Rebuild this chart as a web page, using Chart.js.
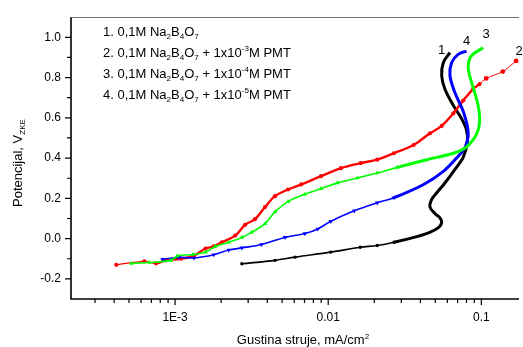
<!DOCTYPE html>
<html><head><meta charset="utf-8">
<script src="https://cdn.jsdelivr.net/npm/chart.js@4/dist/chart.umd.min.js"></script>
<style>html,body{margin:0;padding:0;background:#fff;}</style>
</head><body>
<canvas id="c" width="523" height="347"></canvas>
<script>
// ---- data (current density mA/cm2, potential V) ----
const black_x = [0.00273, 0.0045, 0.00607, 0.0104, 0.0162, 0.0209, 0.0269, 0.0379, 0.046, 0.0527, 0.0551, 0.0537, 0.0499, 0.0462, 0.0474, 0.0512, 0.0568, 0.0671, 0.0762, 0.0811, 0.080, 0.0743, 0.0656, 0.0578, 0.0551, 0.0565, 0.0624];
const black_y = [-0.125, -0.108, -0.092, -0.067, -0.043, -0.034, -0.018, 0.010, 0.031, 0.056, 0.080, 0.103, 0.124, 0.157, 0.195, 0.228, 0.269, 0.343, 0.405, 0.482, 0.539, 0.596, 0.662, 0.743, 0.809, 0.875, 0.924];

const red_x = [0.000413, 0.00063, 0.00075, 0.00087, 0.00109, 0.00133, 0.00158, 0.00179, 0.00202, 0.00247, 0.00287, 0.00333, 0.00387, 0.00449, 0.00547, 0.00667, 0.00897, 0.0121, 0.0163, 0.0209, 0.0268, 0.0361, 0.0462, 0.0551, 0.0656, 0.0762, 0.0883, 0.0975, 0.1076, 0.138, 0.1687];
const red_y = [-0.130, -0.113, -0.123, -0.108, -0.100, -0.084, -0.049, -0.039, -0.018, 0.015, 0.069, 0.097, 0.157, 0.211, 0.244, 0.269, 0.310, 0.350, 0.375, 0.392, 0.424, 0.465, 0.523, 0.560, 0.622, 0.686, 0.743, 0.768, 0.796, 0.830, 0.883];

const green_x = [0.000517, 0.000679, 0.000938, 0.001035, 0.00131, 0.00158, 0.00183, 0.00224, 0.00273, 0.00316, 0.00387, 0.00449, 0.00547, 0.00702, 0.00897, 0.0115, 0.0155, 0.0209, 0.0282, 0.044, 0.0656, 0.078, 0.0883, 0.0953, 0.0975, 0.0953, 0.0891, 0.0839, 0.082, 0.0861, 0.1026];
const green_y = [-0.123, -0.119, -0.108, -0.086, -0.079, -0.067, -0.039, -0.018, 0.006, 0.031, 0.074, 0.133, 0.184, 0.220, 0.248, 0.277, 0.301, 0.326, 0.354, 0.392, 0.424, 0.449, 0.490, 0.539, 0.596, 0.662, 0.743, 0.809, 0.858, 0.908, 0.948];

const blue_x = [0.000828, 0.00106, 0.00133, 0.00179, 0.00224, 0.00273, 0.00367, 0.00523, 0.00705, 0.00855, 0.0104, 0.0148, 0.0209, 0.0268, 0.042, 0.0565, 0.0689, 0.079, 0.082, 0.0764, 0.0671, 0.0624, 0.064, 0.0706, 0.080];
const blue_y = [-0.103, -0.093, -0.096, -0.080, -0.057, -0.046, -0.029, 0.006, 0.025, 0.048, 0.086, 0.138, 0.178, 0.203, 0.269, 0.334, 0.400, 0.460, 0.531, 0.629, 0.727, 0.809, 0.875, 0.915, 0.932];

const xTickValues = [0.001, 0.01, 0.1];
const xTickLabels = ['1E-3', '0.01', '0.1'];
const yTickValues = [-0.2, 0.0, 0.2, 0.4, 0.6, 0.8, 1.0];
const yMinorValues = [-0.1, 0.1, 0.3, 0.5, 0.7, 0.9];
const X_MIN = 2.0906e-4, X_MAX = 0.1762, Y_MIN = -0.3, Y_MAX = 1.1;

const FONT = "'Liberation Sans', Arial, sans-serif";

function pts(xs, ys) { return xs.map((x, i) => ({x: x, y: ys[i]})); }

function makeSet(label, xs, ys, color, style) {
  return {
    label: label,
    data: pts(xs, ys),
    showLine: true,
    borderColor: color,
    backgroundColor: color,
    pointStyle: style.pointStyle,
    rotation: style.rotation || 0,
    pointBorderWidth: 0,
    tension: 0.35,
    order: style.order,
    pointRadius: c => style.radius(c.dataIndex),
    segment: { borderWidth: c => style.width(c.p0DataIndex) },
    borderWidth: 1.5
  };
}

const datasets = [
  makeSet('1', black_x, black_y, '#000000', {pointStyle:'circle', order:4,
    radius: i => i < 7 ? 1.7 : 0, width: i => i < 6 ? 1.6 : 3}),
  makeSet('2', red_x, red_y, '#ff0000', {pointStyle:'circle', order:3,
    radius: i => i >= 28 ? 2.4 : 2.1, width: i => i < 2 ? 1.2 : (i >= 27 ? 1 : 2.4)}),
  makeSet('4', blue_x, blue_y, '#0000ff', {pointStyle:'triangle', rotation:180, order:2,
    radius: i => i < 14 ? 2.6 : 0, width: i => i < 13 ? 1.6 : 3}),
  makeSet('3', green_x, green_y, '#00ff00', {pointStyle:'triangle', order:1,
    radius: i => i < 19 ? 2.6 : 0, width: i => i < 18 ? 1.6 : 3})
];

function richText(ctx, parts, x, y, size) {
  let cx = x;
  for (const p of parts) {
    const t = typeof p === 'string' ? p : p.t;
    const k = typeof p === 'string' ? null : p.k;
    const s = k ? size * 0.62 : size;
    ctx.font = s + 'px ' + FONT;
    const dy = k === 'sub' ? size * 0.26 : (k === 'sup' ? -size * 0.42 : 0);
    ctx.fillText(t, cx, y + dy);
    cx += ctx.measureText(t).width;
  }
  return cx - x;
}
function richWidth(ctx, parts, size) {
  let w = 0;
  for (const p of parts) {
    const t = typeof p === 'string' ? p : p.t;
    const k = typeof p === 'string' ? null : p.k;
    ctx.font = (k ? size * 0.62 : size) + 'px ' + FONT;
    w += ctx.measureText(t).width;
  }
  return w;
}

const NA = ['0,1M Na', {t:'2',k:'sub'}, 'B', {t:'4',k:'sub'}, 'O', {t:'7',k:'sub'}];
const legendLines = [
  ['1. '].concat(NA),
  ['2. '].concat(NA, [' + 1x10', {t:'-3',k:'sup'}, 'M PMT']),
  ['3. '].concat(NA, [' + 1x10', {t:'-4',k:'sup'}, 'M PMT']),
  ['4. '].concat(NA, [' + 1x10', {t:'-5',k:'sup'}, 'M PMT'])
];

const decor = {
  id: 'decor',
  afterDraw(chart) {
    const ctx = chart.ctx, a = chart.chartArea, xs = chart.scales.x, ys = chart.scales.y;
    ctx.save();
    // top frame line
    ctx.strokeStyle = '#707070'; ctx.lineWidth = 1;
    ctx.beginPath(); ctx.moveTo(a.left, Math.round(a.top) + 0.5); ctx.lineTo(a.right, Math.round(a.top) + 0.5); ctx.stroke();
    // axes
    ctx.strokeStyle = '#000'; ctx.lineWidth = 1.6;
    ctx.beginPath(); ctx.moveTo(a.left, a.top); ctx.lineTo(a.left, a.bottom); ctx.lineTo(a.right, a.bottom); ctx.stroke();
    ctx.lineWidth = 1.2;
    ctx.beginPath();
    for (const v of yTickValues) { const p = ys.getPixelForValue(v); ctx.moveTo(a.left - 6, p); ctx.lineTo(a.left, p); }
    for (const v of yMinorValues) { const p = ys.getPixelForValue(v); ctx.moveTo(a.left - 4, p); ctx.lineTo(a.left, p); }
    for (const v of xTickValues) { const p = xs.getPixelForValue(v); ctx.moveTo(p, a.bottom); ctx.lineTo(p, a.bottom + 6); }
    for (let d = -4; d <= 0; d++) {
      for (let m = 2; m <= 9; m++) {
        const v = m * Math.pow(10, d);
        if (v <= X_MIN || v >= X_MAX) continue;
        const p = xs.getPixelForValue(v);
        ctx.moveTo(p, a.bottom); ctx.lineTo(p, a.bottom + 4);
      }
    }
    ctx.stroke();

    ctx.fillStyle = '#000';
    ctx.textBaseline = 'alphabetic';
    ctx.textAlign = 'left';
    // legend text
    const lb = [35.5, 56.5, 77.5, 98.5];
    legendLines.forEach((parts, i) => richText(ctx, parts, 103, lb[i], 13));
    // x title
    const xt = ['Gustina struje, mA/cm', {t:'2',k:'sup'}];
    const w = richWidth(ctx, xt, 13);
    richText(ctx, xt, 303 - w / 2, 344, 13);
    // y title
    ctx.save();
    ctx.translate(22, 207);
    ctx.rotate(-Math.PI / 2);
    richText(ctx, ['Potencijal, V', {t:'ZKE', k:'sub'}], 0, 0, 13);
    ctx.restore();
    // curve numbers
    ctx.font = '13px ' + FONT;
    ctx.textAlign = 'center'; ctx.textBaseline = 'middle';
    ctx.fillText('1', 441.5, 50);
    ctx.fillText('4', 466.5, 41);
    ctx.fillText('3', 486, 34.5);
    ctx.fillText('2', 519, 51.5);
    ctx.restore();
  }
};

new Chart(document.getElementById('c'), {
  type: 'scatter',
  data: { datasets: datasets },
  plugins: [decor],
  options: {
    responsive: false,
    animation: false,
    layout: { padding: { top: 13.5, left: 0, right: 0, bottom: 0 } },
    plugins: { legend: { display: false }, tooltip: { enabled: false } },
    scales: {
      x: {
        type: 'logarithmic', position: 'bottom', min: X_MIN, max: X_MAX,
        afterFit: s => { s.height = 48; },
        afterBuildTicks: s => { s.ticks = xTickValues.map(v => ({ value: v })); },
        ticks: { autoSkip: false, maxRotation: 0, minRotation: 0, padding: 11, color: '#000',
          font: { family: FONT, size: 12 }, callback: (v, i) => xTickLabels[i] },
        grid: { display: false, drawTicks: false },
        border: { display: false }
      },
      y: {
        type: 'linear', position: 'left', min: Y_MIN, max: Y_MAX,
        afterFit: s => { s.width = 71; },
        afterBuildTicks: s => { s.ticks = yTickValues.map(v => ({ value: v })); },
        ticks: { autoSkip: false, padding: 10, color: '#000',
          font: { family: FONT, size: 12 }, callback: v => Number(v).toFixed(1) },
        grid: { display: false, drawTicks: false },
        border: { display: false }
      }
    }
  }
});
</script>
</body></html>
